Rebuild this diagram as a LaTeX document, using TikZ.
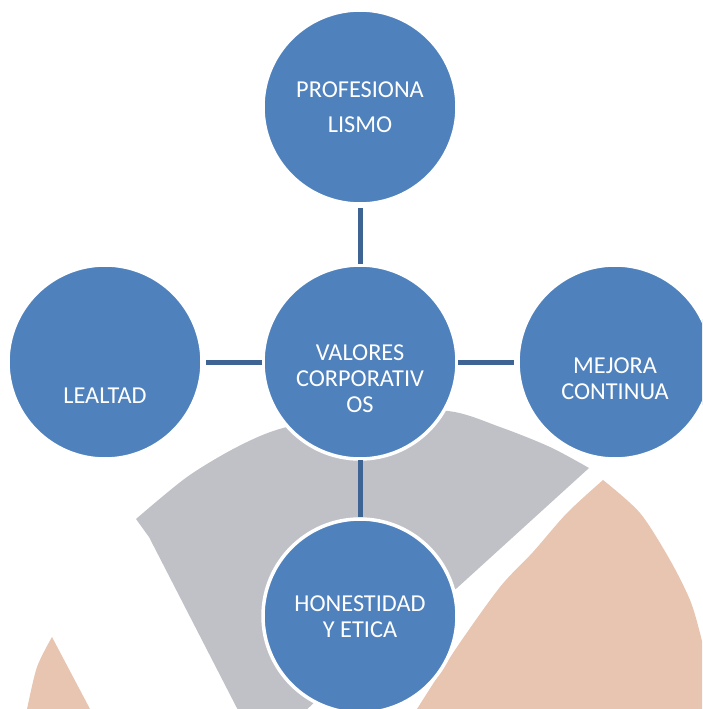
\documentclass[tikz,border=0pt]{standalone}
\usepackage{fontspec}
\setmainfont{Carlito}
\definecolor{circblue}{RGB}{79,129,189}
\definecolor{linkblue}{RGB}{62,100,148}
\definecolor{bandgray}{RGB}{192,193,198}
\definecolor{peach}{RGB}{232,197,176}
\begin{document}
\begin{tikzpicture}[x=1pt,y=-1pt,
  valcircle/.style={circle, fill=circblue, draw=white, line width=3.5pt, minimum size=194pt, inner sep=0pt, outer sep=0pt},
  valtext/.style={text=white, align=center, font=\fontsize{24.3}{26}\selectfont, inner sep=0pt},
  link/.style={draw=linkblue, line width=5pt}]
\useasboundingbox (0,0) rectangle (702,709);
\clip (0,0) rectangle (702,709);
% grey band
\fill[bandgray] (241,716) -- (149,537) -- plot[smooth] coordinates {(136,519) (187,477) (237,447) (283,428) (365,412) (448,411) (500,427) (550,447) (589,468)} -- (457,588) -- (380,640) -- (300,716) -- cycle;
% peach shapes
\fill[peach] (412,716) -- plot[smooth] coordinates {(417,709) (457,647) (500,587) (533,552) (567,513) (603,480)} -- plot[smooth] coordinates {(603,480) (640,513) (670,560) (690,600) (700,633) (706,660)} -- (712,716) -- cycle;
\fill[peach] (93.7,716) -- (52,637) -- plot[smooth] coordinates {(52,637) (37,667) (27,709) (25.5,716)} -- cycle;
% circles
\node[valcircle] (top) at (360,107) {};
\node[valcircle] (core) at (360,362) {};
\node[valcircle] (left) at (105,362) {};
\node[valcircle] (right) at (615,362) {};
\node[valcircle] (bottom) at (360,616) {};
% connectors
\draw[link, shorten <=1pt, shorten >=4pt] (core) -- (top);
\draw[link, shorten <=1pt, shorten >=4pt] (core) -- (left);
\draw[link, shorten <=1pt, shorten >=4pt] (core) -- (right);
\draw[link, shorten <=1pt, shorten >=2pt] (core) -- (bottom);
% texts
\node[valtext, font=\fontsize{24.3}{35}\selectfont] (ttop) at (360,107) {PROFESIONA\\LISMO};
\node[valtext] (tleft) at (105,396) {LEALTAD};
\node[valtext] (tcore) at (360,379) {VALORES\\CORPORATIV\\OS};
\node[valtext] (tright) at (615,378.5) {MEJORA\\CONTINUA};
\node[valtext] (tbottom) at (360,616.5) {HONESTIDAD\\Y ETICA};
\end{tikzpicture}
\end{document}
